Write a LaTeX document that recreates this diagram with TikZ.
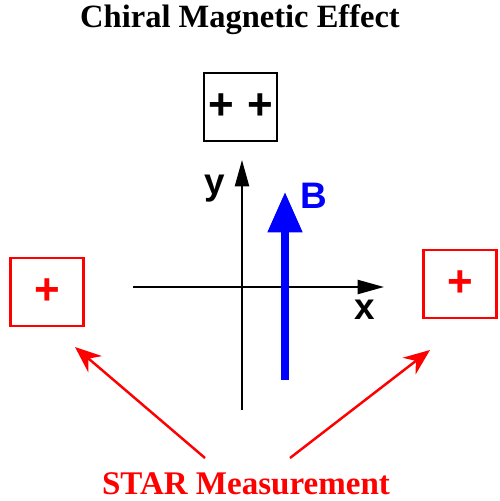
\documentclass[tikz,border=0pt]{standalone}
\usepackage{fontspec}
\setmainfont{Liberation Serif}
\newfontfamily\labelfont{Liberation Sans}
\usetikzlibrary{arrows.meta,positioning}
\definecolor{cmered}{RGB}{255,0,0}
\definecolor{cmeblue}{RGB}{0,0,255}

\begin{document}
\begin{tikzpicture}[x=.02cm,y=-.02cm,
    chargebox/.style={draw,line width=1.5pt,minimum width=1.46cm,minimum height=1.36cm,inner sep=0pt,
      font=\labelfont\bfseries\fontsize{25}{25}\selectfont},
    axis/.style={line width=1.2pt,-{Triangle[length=15pt,width=8pt]}},
    axlabel/.style={font=\labelfont\bfseries\fontsize{21}{21}\selectfont},
    pointer/.style={cmered,line width=1.4pt,-{Stealth[length=15pt,width=12pt]}}]
    \useasboundingbox (0,0) rectangle (500,501);
    % title and caption
    \node[font=\bfseries\fontsize{18.5}{18.5}\selectfont] (title) at (240,20) {Chiral Magnetic Effect};
    \node[cmered,font=\bfseries\fontsize{18.8}{18.8}\selectfont] (star) at (246,484) {STAR Measurement};
    % charge boxes
    \node[chargebox] (top) at (240.5,107) {+\hspace{7.5pt}+};
    \node[chargebox,cmered] (left) at (47,292) {+};
    \node[chargebox,cmered] (right) at (460,284) {+};
    % axes
    \coordinate (xs) at (133,287); \coordinate (xe) at (384,287);
    \coordinate (ys) at (242,410); \coordinate (ye) at (242,160);
    \draw[axis] (xs) -- (xe);
    \draw[axis] (ys) -- (ye);
    \node[axlabel] (xlab) at (365,310) {x};
    \node[axlabel] (ylab) at (215,189) {y};
    % magnetic field
    \coordinate (bs) at (285,380); \coordinate (be) at (285,192);
    \draw[cmeblue,line width=4pt,-{Triangle[length=23pt,width=19pt]}] (bs) -- (be);
    \node[axlabel,cmeblue] (blab) at (314,196) {B};
    % pointers
    \coordinate (sl) at (205,458); \coordinate (tl) at (75,347);
    \coordinate (sr) at (290,458); \coordinate (tr) at (430,350);
    \draw[pointer] (sl) -- (tl);
    \draw[pointer] (sr) -- (tr);
\end{tikzpicture}
\end{document}
